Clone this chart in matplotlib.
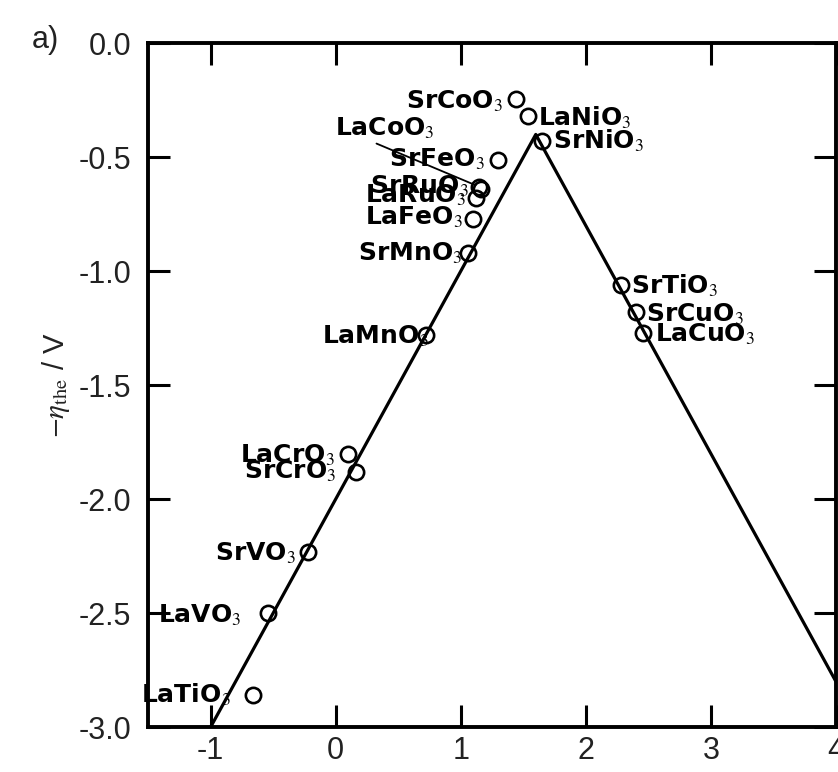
import matplotlib
matplotlib.use("Agg")
import matplotlib.pyplot as plt

plt.rcParams['mathtext.fontset'] = 'stix'

# Volcano (thermodynamic limit) line
volcano_x = [-1.0, 1.6, 4.0]
volcano_y = [-3.0, -0.4, -2.8]

# Perovskite oxides: descriptor (x) and -eta_the (y)
names = ["SrCoO", "LaNiO", "SrNiO", "SrFeO", "SrRuO", "LaRuO", "LaFeO",
         "SrMnO", "LaMnO", "LaCrO", "SrCrO", "SrVO", "LaVO", "LaTiO",
         "SrTiO", "SrCuO", "LaCuO", "LaCoO"]
x_vals = [1.44, 1.54, 1.65, 1.30, 1.16, 1.12, 1.10,
          1.06, 0.72, 0.10, 0.16, -0.22, -0.54, -0.66,
          2.28, 2.40, 2.46, 1.15]
y_vals = [-0.245, -0.32, -0.43, -0.51, -0.64, -0.68, -0.77,
          -0.92, -1.28, -1.80, -1.88, -2.23, -2.50, -2.86,
          -1.06, -1.18, -1.27, -0.63]

# label placement (offset in points, horizontal alignment)
label_dx = [-9, 7, 8, -10, -9, -7, -7, -4, 2, -10, -14, -9, -19, -16, 7, 7, 8.6, -104]
label_dy = [-7, -6.5, -5, -5, -3, -3, -4.2, -5.8, -6.5, -6.5, -5, -6.5, -6.5, -5, -6.5, -6.5, -6.5, 37]
label_ha = ["right", "left", "left", "right", "right", "right", "right", "right", "right",
            "right", "right", "right", "right", "right", "left", "left", "left", "left"]

fig = plt.figure(figsize=(8.38, 7.72), dpi=100)
ax = fig.add_axes([0.1766, 0.058, 0.821, 0.886])

ax.plot(volcano_x, volcano_y, color='black', lw=2.3, solid_capstyle='butt')
ax.plot(x_vals, y_vals, 'o', ms=11, mfc='none', mec='black', mew=1.9)

for i, name in enumerate(names):
    txt = name + r"$_3$"
    if name == "LaCoO":
        ax.annotate(txt, (x_vals[i], y_vals[i]), xytext=(label_dx[i], label_dy[i]),
                    textcoords='offset points', ha='left', va='baseline',
                    fontsize=18, fontweight='bold', family='DejaVu Sans',
                    arrowprops=dict(arrowstyle='-', lw=1.3, color='black',
                                    relpos=(0.35, 0.0), shrinkA=0, shrinkB=3))
    else:
        ax.annotate(txt, (x_vals[i], y_vals[i]), xytext=(label_dx[i], label_dy[i]),
                    textcoords='offset points', ha=label_ha[i], va='baseline',
                    fontsize=18, fontweight='bold', family='DejaVu Sans')

ax.set_xlim(-1.5, 4.0)
ax.set_ylim(-3.0, 0.0)
ax.set_xticks([-1, 0, 1, 2, 3, 4])
ax.set_yticks([-3.0, -2.5, -2.0, -1.5, -1.0, -0.5, 0.0])
ax.set_xticklabels(["-1", "0", "1", "2", "3", "4"])
ax.set_yticklabels(["-3.0", "-2.5", "-2.0", "-1.5", "-1.0", "-0.5", "0.0"])

ax.tick_params(direction='in', length=16, width=2.2, top=True, right=True,
               labelsize=22, color='black', labelcolor='#222222')
ax.tick_params(axis='x', pad=6)
ax.tick_params(axis='y', pad=12)
for lbl in ax.get_xticklabels() + ax.get_yticklabels():
    lbl.set_family('Liberation Sans')
for sp in ax.spines.values():
    sp.set_linewidth(2.8)

ax.set_ylabel(r"$-\eta_{\rm the}$ / V", fontsize=21, family='Liberation Sans',
              color='#222222', labelpad=5)

fig.text(0.038, 0.938, "a)", fontsize=22, family='Liberation Sans', color='#222222',
         va='baseline')

fig.savefig("out.png", dpi=100)
